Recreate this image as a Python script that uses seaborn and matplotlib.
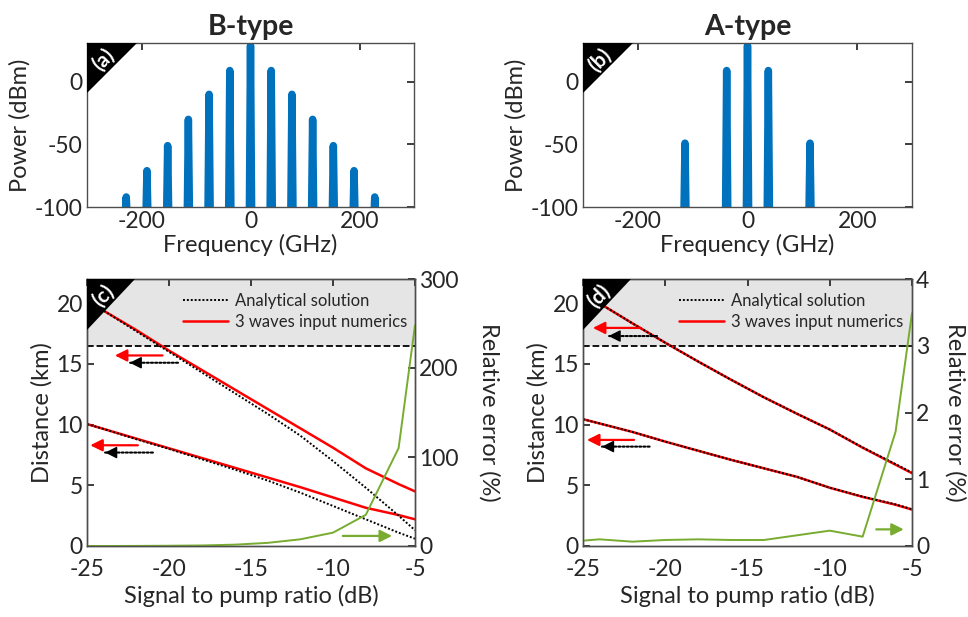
import numpy as np
import pandas as pd
import matplotlib
matplotlib.use("Agg")
import matplotlib.pyplot as plt
import seaborn as sns

# ---------------- data ----------------
b_freq = [-228, -190, -152, -114, -76, -38, 0, 38, 76, 114, 152, 190, 228]
b_power = [-92, -71, -51, -30, -10, 9, 29, 9, -10, -30, -51, -71, -92]
a_freq = [-114, -38, 0, 38, 114]
a_power = [-49, 9, 29, 9, -49]

ratio_db = [-25, -24, -22, -20, -18, -16, -14, -12, -10, -8, -6, -5]
c_upper_num = [20.2, 19.4, 17.8, 16.1, 14.5, 12.9, 11.3, 9.7, 8.1, 6.4, 5.1, 4.5]
c_upper_ana = [20.2, 19.4, 17.7, 16.0, 14.3, 12.6, 10.9, 9.1, 7.0, 4.8, 2.5, 1.3]
c_lower_num = [10.05, 9.65, 8.85, 8.05, 7.25, 6.45, 5.65, 4.85, 4.0, 3.15, 2.55, 2.2]
c_lower_ana = [10.05, 9.65, 8.8, 8.0, 7.15, 6.3, 5.4, 4.4, 3.3, 2.2, 1.1, 0.6]
c_err = [0, 0, 0.1, 0.3, 0.6, 1.5, 3.5, 7.5, 15, 35, 110, 248]

d_upper_num = [20.75, 20.0, 18.35, 16.75, 15.2, 13.7, 12.25, 10.9, 9.6, 8.1, 6.7, 6.0]
d_upper_ana = [20.75, 20.0, 18.35, 16.75, 15.2, 13.7, 12.25, 10.9, 9.6, 8.12, 6.75, 6.05]
d_lower_num = [10.45, 10.1, 9.4, 8.6, 7.85, 7.1, 6.4, 5.7, 4.8, 4.05, 3.4, 3.0]
d_lower_ana = [10.45, 10.1, 9.4, 8.6, 7.85, 7.1, 6.4, 5.7, 4.8, 4.07, 3.43, 3.03]
d_err = [0.08, 0.1, 0.065, 0.09, 0.1, 0.09, 0.09, 0.16, 0.23, 0.14, 1.71, 3.49]

max_distance = 16.5

# ---------------- style ----------------
sns.set_theme(style="white")
plt.rcParams["font.family"] = ["Lato", "DejaVu Sans"]
TXT = "#262626"
plt.rcParams.update({
    "axes.edgecolor": "#4d4d4d",
    "axes.linewidth": 1.0,
    "axes.unicode_minus": False,
    "xtick.color": TXT, "ytick.color": TXT,
    "axes.labelcolor": TXT,
    "text.color": TXT,
})
FS_TICK = 16.5
FS_LAB = 17
BLUE = "#0072BD"
GREEN = "#77AC30"
HEAD = "-|>,head_length=0.6,head_width=0.3"

fig = plt.figure(figsize=(9.68, 6.17), dpi=100)
W, H = 968, 617


def add_ax(l, t, r, b):
    return fig.add_axes([l / W, 1 - b / H, (r - l) / W, (b - t) / H])


ax_a = add_ax(87, 43, 414, 207)
ax_b = add_ax(583, 43, 912, 207)
ax_c = add_ax(87, 279, 415, 546)
ax_d = add_ax(583, 279, 912, 546)


def corner(ax, label, wpx, hpx):
    bb = ax.get_position()
    w = wpx / (bb.width * W)
    h = hpx / (bb.height * H)
    ax.fill([0, w, 0], [1, 1, 1 - h], color="black", transform=ax.transAxes,
            zorder=20, clip_on=False, lw=0)
    ax.text(w / 3.0, 1 - h / 3.0, label, transform=ax.transAxes, rotation=45,
            color="white", fontsize=15, fontweight="bold", ha="center",
            va="center", zorder=21)


def spectrum(ax, freqs, powers, title, label):
    rows = []
    for i, (f, p) in enumerate(zip(freqs, powers)):
        rows += [(i, f - 2.2, -115), (i, f, p), (i, f + 2.2, -115)]
    df = pd.DataFrame(rows, columns=["peak", "freq", "power"])
    sns.lineplot(data=df, x="freq", y="power", units="peak", estimator=None,
                 sort=False, ax=ax, color=BLUE, lw=5.4,
                 solid_capstyle="round", solid_joinstyle="round")
    ax.set_xlim(-300, 300)
    ax.set_ylim(-100, 31)
    ax.set_xticks([-200, 0, 200])
    ax.set_yticks([-100, -50, 0])
    ax.tick_params(direction="in", top=True, right=True, length=5,
                   labelsize=FS_TICK, pad=3)
    ax.set_xlabel("Frequency (GHz)", fontsize=FS_LAB, labelpad=1)
    ax.set_ylabel("Power (dBm)", fontsize=FS_LAB, labelpad=3)
    ax.set_title(title, fontsize=20.5, fontweight="bold", pad=6)
    corner(ax, label, 50, 50)


spectrum(ax_a, b_freq, b_power, "B-type", "(a)")
spectrum(ax_b, a_freq, a_power, "A-type", "(b)")


def arrow(ax, x0, x1, y, col, dotted=False):
    if dotted:
        # dotted shaft plus a solid head
        ax.annotate("", xy=(x1, y), xytext=(x0, y),
                    arrowprops=dict(arrowstyle="-", color=col, lw=1.5,
                                    ls=(0, (1, 1)), shrinkA=0, shrinkB=0),
                    zorder=5)
        ax.annotate("", xy=(x1, y), xytext=(x1 + 0.5 * np.sign(x0 - x1), y),
                    arrowprops=dict(arrowstyle=HEAD, color=col, lw=1.0,
                                    mutation_scale=12, shrinkA=0, shrinkB=0),
                    zorder=5)
    else:
        ax.annotate("", xy=(x1, y), xytext=(x0, y),
                    arrowprops=dict(arrowstyle=HEAD, color=col, lw=1.6,
                                    mutation_scale=12, shrinkA=0, shrinkB=0),
                    zorder=5)


def distance_panel(ax, up_num, up_ana, lo_num, lo_ana, err, err_max, err_ticks,
                   label, arrows, green_arrow):
    ax.axhspan(max_distance, 22, color="#E5E5E5", zorder=0, lw=0)
    ax.axhline(max_distance, color="black", ls="--", lw=1.3, zorder=1)
    df = pd.DataFrame({"r": ratio_db, "un": up_num, "ua": up_ana,
                       "ln": lo_num, "la": lo_ana, "err": err})
    sns.lineplot(data=df, x="r", y="un", ax=ax, color="red", lw=1.8,
                 label="3 waves input numerics")
    sns.lineplot(data=df, x="r", y="ln", ax=ax, color="red", lw=1.8)
    sns.lineplot(data=df, x="r", y="ua", ax=ax, color="black", lw=1.4,
                 ls=(0, (1, 1)), label="Analytical solution")
    sns.lineplot(data=df, x="r", y="la", ax=ax, color="black", lw=1.4,
                 ls=(0, (1, 1)))
    ax.set_xlim(-25, -5)
    ax.set_ylim(0, 22)
    ax.set_xticks([-25, -20, -15, -10, -5])
    ax.set_yticks([0, 5, 10, 15, 20])
    ax.tick_params(direction="in", top=True, right=False, length=5,
                   labelsize=FS_TICK, pad=3)
    ax.tick_params(axis="x", pad=9)
    ax.set_xlabel("Signal to pump ratio (dB)", fontsize=FS_LAB, labelpad=4)
    ax.set_ylabel("Distance (km)", fontsize=FS_LAB, labelpad=3)
    handles, labels = ax.get_legend_handles_labels()
    order = [labels.index("Analytical solution"),
             labels.index("3 waves input numerics")]
    ax.get_legend().remove()

    for (x0, x1, y, col, dotted) in arrows:
        arrow(ax, x0, x1, y, col, dotted)
    x0, x1, y = green_arrow
    arrow(ax, x0, x1, y, GREEN)

    ax2 = ax.twinx()
    sns.lineplot(data=df, x="r", y="err", ax=ax2, color=GREEN, lw=1.4)
    ax2.set_ylim(0, err_max)
    ax2.set_yticks(err_ticks)
    ax2.set_xlim(-25, -5)
    ax2.tick_params(direction="in", right=True, left=False, length=5,
                    labelsize=FS_TICK, pad=3)
    ax2.set_ylabel("Relative error (%)", fontsize=FS_LAB, rotation=270,
                   labelpad=30 if err_max > 10 else 26)
    ax2.grid(False)
    ax2.legend([handles[i] for i in order], [labels[i] for i in order],
               loc="upper left", bbox_to_anchor=(0.25, 1.0), frameon=False,
               fontsize=12, handlelength=2.7, handletextpad=0.4,
               labelspacing=0.3, borderpad=0.85, borderaxespad=0)
    corner(ax2, label, 48, 51)


distance_panel(ax_c, c_upper_num, c_upper_ana, c_lower_num, c_lower_ana,
               c_err, 300, [0, 100, 200, 300], "(c)",
               [(-20.4, -23.3, 15.7, "red", False),
                (-19.45, -22.4, 15.1, "black", True),
                (-21.9, -24.8, 8.3, "red", False),
                (-20.98, -23.9, 7.7, "black", True)],
               (-9.4, -6.4, 0.83))
distance_panel(ax_d, d_upper_num, d_upper_ana, d_lower_num, d_lower_ana,
               d_err, 4, [0, 1, 2, 3, 4], "(d)",
               [(-21.5, -24.4, 17.97, "red", False),
                (-20.5, -23.45, 17.3, "black", True),
                (-21.9, -24.76, 8.74, "red", False),
                (-20.95, -23.85, 8.19, "black", True)],
               (-7.17, -5.5, 1.37))

fig.savefig("out.png", dpi=100)
